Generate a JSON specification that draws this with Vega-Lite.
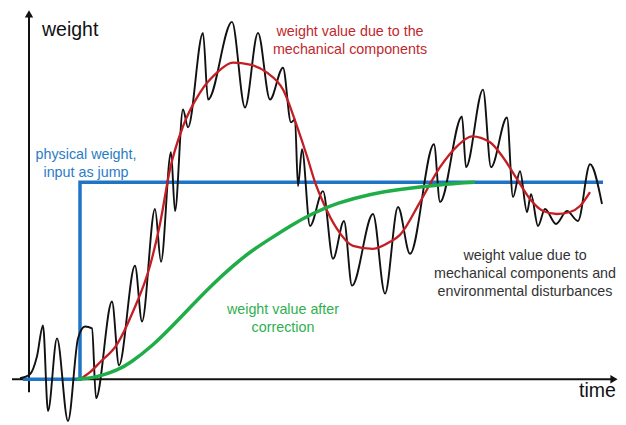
{
  "$schema": "https://vega.github.io/schema/vega-lite/v6.json",
  "width": 626,
  "height": 425,
  "padding": 0,
  "autosize": {"type": "fit", "contains": "padding"},
  "background": "white",
  "config": {"view": {"stroke": null}},
  "datasets": {
    "axes": [
      {"t": 12, "w": 44, "t2": 612, "w2": 44},
      {"t": 29, "w": 31, "t2": 29, "w2": 408}
    ],
    "arrowX": [{"t": 614, "w": 44}],
    "arrowY": [{"t": 29, "w": 411}],
    "blue": [
      {"t": 23, "w": 44}, {"t": 80, "w": 44}, {"t": 80, "w": 242}, {"t": 603, "w": 242}
    ],
    "green": [
      {"t": 77, "w": 44}, {"t": 90, "w": 45}, {"t": 103, "w": 48}, {"t": 117, "w": 53},
      {"t": 130, "w": 60}, {"t": 153, "w": 78}, {"t": 170, "w": 95}, {"t": 190, "w": 116},
      {"t": 210, "w": 137}, {"t": 233, "w": 158}, {"t": 250, "w": 172}, {"t": 270, "w": 185},
      {"t": 290, "w": 198}, {"t": 313, "w": 211}, {"t": 337, "w": 221}, {"t": 370, "w": 230},
      {"t": 400, "w": 235}, {"t": 440, "w": 239.5}, {"t": 475, "w": 242}
    ],
    "red": [
      {"t": 80, "w": 44}, {"t": 90, "w": 51}, {"t": 100, "w": 61}, {"t": 117, "w": 79},
      {"t": 133, "w": 112}, {"t": 150, "w": 158}, {"t": 160, "w": 200}, {"t": 170, "w": 255},
      {"t": 183, "w": 298}, {"t": 200, "w": 332}, {"t": 217, "w": 352}, {"t": 233, "w": 362},
      {"t": 250, "w": 360}, {"t": 267, "w": 352}, {"t": 283, "w": 335}, {"t": 297, "w": 298},
      {"t": 307, "w": 268}, {"t": 315, "w": 242}, {"t": 323, "w": 222}, {"t": 337, "w": 195},
      {"t": 353, "w": 178}, {"t": 373, "w": 175}, {"t": 390, "w": 182}, {"t": 400, "w": 189},
      {"t": 420, "w": 222}, {"t": 440, "w": 257}, {"t": 457, "w": 278}, {"t": 472, "w": 288},
      {"t": 490, "w": 282}, {"t": 503, "w": 267}, {"t": 517, "w": 245}, {"t": 530, "w": 225},
      {"t": 543, "w": 213}, {"t": 557, "w": 210}, {"t": 570, "w": 212}, {"t": 580, "w": 218},
      {"t": 590, "w": 232}
    ],
    "black": [
      {"t": 20, "w": 45}, {"t": 30, "w": 49}, {"t": 37, "w": 67}, {"t": 43, "w": 98},
      {"t": 48, "w": 12}, {"t": 57, "w": 85}, {"t": 68, "w": 2}, {"t": 78, "w": 85},
      {"t": 85, "w": 97}, {"t": 92, "w": 95}, {"t": 96, "w": 25}, {"t": 112, "w": 122},
      {"t": 119, "w": 58}, {"t": 135, "w": 158}, {"t": 142, "w": 102}, {"t": 155, "w": 215},
      {"t": 161, "w": 162}, {"t": 171, "w": 272}, {"t": 175, "w": 213}, {"t": 183, "w": 315},
      {"t": 188, "w": 297}, {"t": 203, "w": 392}, {"t": 208, "w": 325}, {"t": 232, "w": 403},
      {"t": 245, "w": 317}, {"t": 258, "w": 392}, {"t": 270, "w": 325}, {"t": 283, "w": 357},
      {"t": 291, "w": 302}, {"t": 295, "w": 305}, {"t": 298, "w": 238}, {"t": 302, "w": 275},
      {"t": 310, "w": 198}, {"t": 323, "w": 233}, {"t": 333, "w": 165}, {"t": 344, "w": 203},
      {"t": 352, "w": 138}, {"t": 373, "w": 210}, {"t": 385, "w": 130}, {"t": 398, "w": 217},
      {"t": 410, "w": 170}, {"t": 434, "w": 280}, {"t": 440, "w": 222}, {"t": 462, "w": 308},
      {"t": 466, "w": 257}, {"t": 483, "w": 335}, {"t": 491, "w": 257}, {"t": 507, "w": 307},
      {"t": 513, "w": 227}, {"t": 520, "w": 253}, {"t": 527, "w": 212}, {"t": 531, "w": 230},
      {"t": 538, "w": 198}, {"t": 545, "w": 215}, {"t": 556, "w": 200}, {"t": 567, "w": 213},
      {"t": 578, "w": 203}, {"t": 590, "w": 260}, {"t": 602, "w": 220}
    ],
    "labelRed": [{"t": 350, "w": 393, "text": ["weight value due to the", "mechanical components"]}],
    "labelBlue": [{"t": 86, "w": 269, "text": ["physical weight,", "input as jump"]}],
    "labelGreen": [{"t": 283, "w": 114, "text": ["weight value after", "correction"]}],
    "labelBlack": [{"t": 525, "w": 168, "text": ["weight value due to", "mechanical components and", "environmental disturbances"]}],
    "axisTitles": [
      {"t": 42, "w": 395, "text": "weight"},
      {"t": 579, "w": 32, "text": "time"}
    ]
  },
  "encoding": {
    "x": {"field": "t", "type": "quantitative", "scale": {"domain": [0, 626], "nice": false, "zero": false}, "axis": null},
    "y": {"field": "w", "type": "quantitative", "scale": {"domain": [0, 425], "nice": false, "zero": false}, "axis": null}
  },
  "layer": [
    {
      "data": {"name": "axes"},
      "mark": {"type": "rule", "color": "#111111", "strokeWidth": 2},
      "encoding": {"x2": {"field": "t2"}, "y2": {"field": "w2"}}
    },
    {
      "data": {"name": "arrowX"},
      "mark": {"type": "point", "shape": "triangle-right", "filled": true, "color": "#111111", "size": 70, "opacity": 1}
    },
    {
      "data": {"name": "arrowY"},
      "mark": {"type": "point", "shape": "triangle-up", "filled": true, "color": "#111111", "size": 70, "opacity": 1}
    },
    {
      "data": {"name": "blue"},
      "mark": {"type": "line", "color": "#1f74c6", "strokeWidth": 3.5, "strokeJoin": "miter"},
      "encoding": {"order": {"value": null}}
    },
    {
      "data": {"name": "black"},
      "mark": {"type": "line", "color": "#111111", "strokeWidth": 1.9, "interpolate": "monotone"}
    },
    {
      "data": {"name": "red"},
      "mark": {"type": "line", "color": "#c41e24", "strokeWidth": 2.3, "interpolate": "monotone"}
    },
    {
      "data": {"name": "green"},
      "mark": {"type": "line", "color": "#1fad48", "strokeWidth": 3.5, "interpolate": "basis"}
    },
    {
      "data": {"name": "labelRed"},
      "mark": {"type": "text", "font": "Liberation Sans", "fontSize": 14.3, "lineHeight": 18, "align": "center", "baseline": "middle", "color": "#c0282d"},
      "encoding": {"text": {"field": "text"}}
    },
    {
      "data": {"name": "labelBlue"},
      "mark": {"type": "text", "font": "Liberation Sans", "fontSize": 14.3, "lineHeight": 18, "align": "center", "baseline": "middle", "color": "#2a7cc6"},
      "encoding": {"text": {"field": "text"}}
    },
    {
      "data": {"name": "labelGreen"},
      "mark": {"type": "text", "font": "Liberation Sans", "fontSize": 14.3, "lineHeight": 18, "align": "center", "baseline": "middle", "color": "#2eb04f"},
      "encoding": {"text": {"field": "text"}}
    },
    {
      "data": {"name": "labelBlack"},
      "mark": {"type": "text", "font": "Liberation Sans", "fontSize": 14.3, "lineHeight": 18, "align": "center", "baseline": "middle", "color": "#333333"},
      "encoding": {"text": {"field": "text"}}
    },
    {
      "data": {"name": "axisTitles"},
      "mark": {"type": "text", "font": "Liberation Sans", "fontSize": 19.5, "align": "left", "baseline": "middle", "color": "#111111"},
      "encoding": {"text": {"field": "text"}}
    }
  ]
}
